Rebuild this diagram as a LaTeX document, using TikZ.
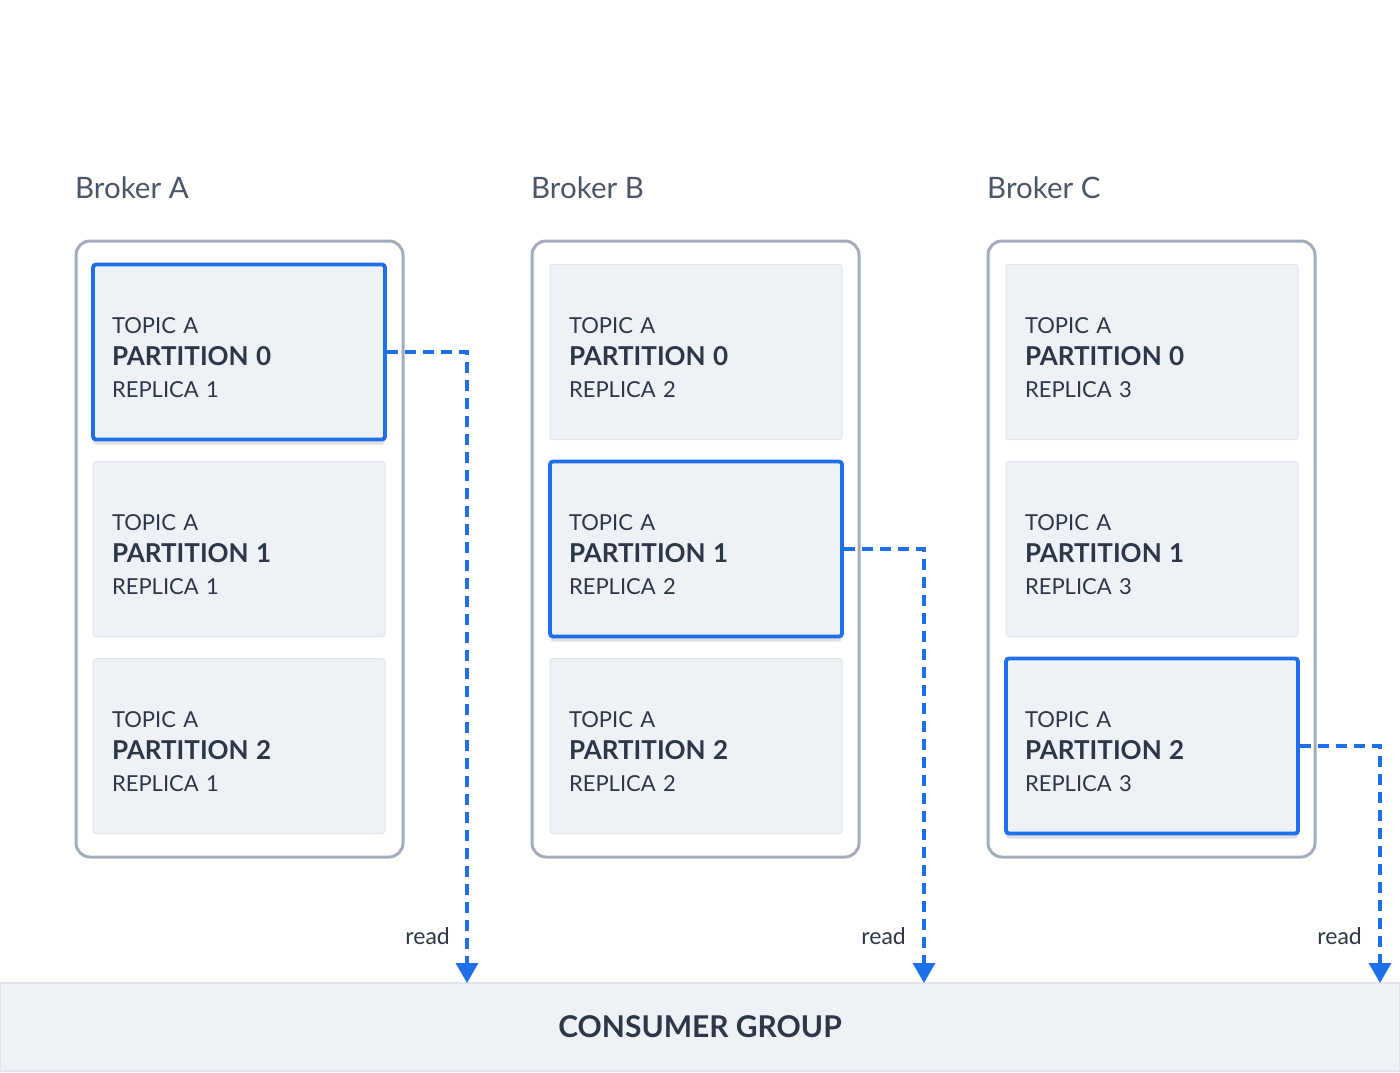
\documentclass[tikz,border=0pt]{standalone}
\usepackage{fontspec}
\setmainfont{Lato}
\usetikzlibrary{arrows.meta}
\usetikzlibrary{shadows}
\definecolor{ink}{RGB}{45,55,72}
\definecolor{brokerink}{RGB}{74,85,104}
\definecolor{brokergray}{RGB}{164,171,187}
\definecolor{partfill}{RGB}{238,241,246}
\definecolor{partedge}{RGB}{224,228,235}
\definecolor{leadblue}{RGB}{31,111,235}
\tikzset{broker/.style={draw=brokergray,line width=3pt,rounded corners=14pt,fill=white,minimum width=327pt,minimum height=616pt}}
\tikzset{blabel/.style={anchor=base west,text=brokerink,inner sep=0pt,font=\fontsize{29.5}{31}\selectfont}}
\tikzset{part/.style={draw=partedge,line width=1pt,fill=partfill,rounded corners=3pt,minimum width=292pt,minimum height=175pt,text width=254pt,align=left,inner sep=0pt,text=ink,font=\fontsize{22}{32}\selectfont}}
\tikzset{leader/.style={part,draw=leadblue,line width=3.8pt,drop shadow={shadow xshift=0pt,shadow yshift=-5pt,fill=black,opacity=0.12}}}
\tikzset{readline/.style={leadblue,line width=3.4pt,dash pattern=on 11pt off 7pt,-{Triangle[width=22pt,length=20pt]}}}
\tikzset{rl/.style={anchor=base east,text=ink,font=\fontsize{23}{24}\selectfont,inner sep=0pt}}
\newcommand{\ptext}[2]{\rule{0pt}{28pt}TOPIC A\\{\bfseries\fontsize{26}{32}\selectfont PARTITION #1}\\REPLICA #2}

\begin{document}
\begin{tikzpicture}[x=1pt,y=-1pt]
  \useasboundingbox (0,0) rectangle (1400,1072);
  % brokers
  \node (bA) at (75,198) [blabel] {Broker A};
  \node (bB) at (531,198) [blabel] {Broker B};
  \node (bC) at (987,198) [blabel] {Broker C};
  \node[broker] (brokerA) at (239.5,549) {};
  \node[broker] (brokerB) at (695.5,549) {};
  \node[broker] (brokerC) at (1151.5,549) {};
  % partitions of broker A
  \node[leader] (pA0) at (239,352) {\ptext{0}{1}};
  \node[part] (pA1) at (239,549) {\ptext{1}{1}};
  \node[part] (pA2) at (239,746) {\ptext{2}{1}};
  % partitions of broker B
  \node[part] (pB0) at (696,352) {\ptext{0}{2}};
  \node[leader] (pB1) at (696,549) {\ptext{1}{2}};
  \node[part] (pB2) at (696,746) {\ptext{2}{2}};
  % partitions of broker C
  \node[part] (pC0) at (1152,352) {\ptext{0}{3}};
  \node[part] (pC1) at (1152,549) {\ptext{1}{3}};
  \node[leader] (pC2) at (1152,746) {\ptext{2}{3}};
  % consumers
  \node[draw=partedge,line width=2pt,fill=partfill,minimum width=1400pt,minimum height=88pt,text=ink,font=\bfseries\fontsize{30}{32}\selectfont] (group) at (700,1027) {CONSUMER GROUP};
  \coordinate (inA) at (467,983);
  \coordinate (inB) at (924,983);
  \coordinate (inC) at (1380,983);
  \draw[readline] (pA0.east) -| (inA);
  \draw[readline] (pB1.east) -| (inB);
  \draw[readline] (pC2.east) -| (inC);
  \node[rl] (readA) at (450,944) {read};
  \node[rl] (readB) at (906,944) {read};
  \node[rl] (readC) at (1362,944) {read};
\end{tikzpicture}
\end{document}
